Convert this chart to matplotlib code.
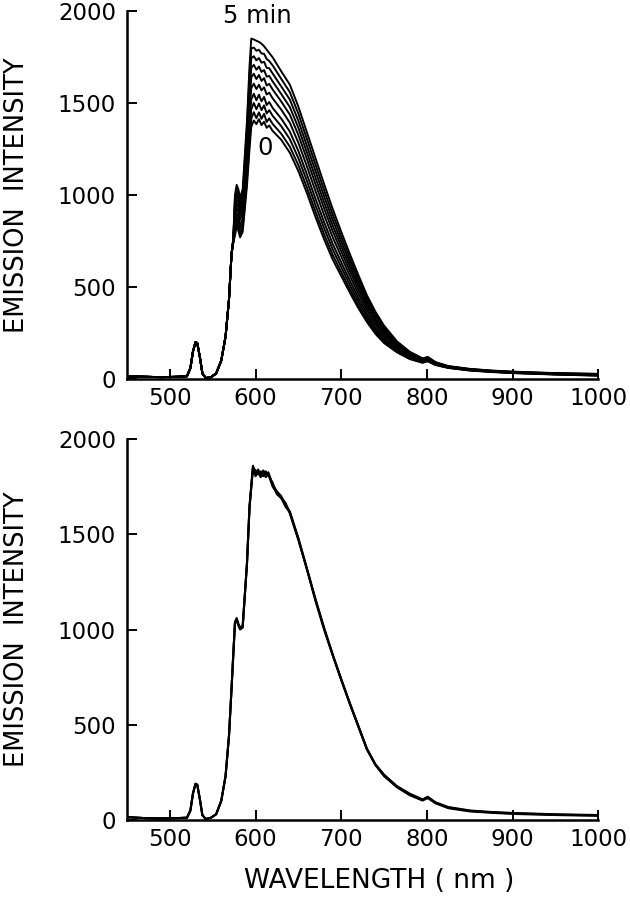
import matplotlib
matplotlib.use("Agg")
import matplotlib.pyplot as plt

plt.rcParams['font.family'] = ['DejaVu Sans']

# wavelength grid (nm) - onset part shared by every spectrum
wl_onset = [450, 470, 490, 510, 520, 524, 527, 530, 532, 535, 538, 542, 548, 554, 560, 565, 569, 572]

# upper panel: spectra recorded 0 ... 5 min
top_onset = [15, 12, 10, 12, 15, 60, 150, 200, 195, 120, 30, 5, 10, 30, 100, 230, 430, 680]
wl_top = [574, 576, 578, 580, 582, 585, 590, 593, 595, 598, 601, 604, 607, 610, 613, 616, 620,
          630, 640, 650, 660, 670, 680, 690, 700, 710, 720, 730, 740, 750, 765, 780, 795, 801,
          810, 825, 850, 875, 900, 950, 1000]

top_0 = [740, 780, 830, 805, 770, 800, 1050, 1250, 1370, 1405, 1385, 1412, 1380, 1398, 1365, 1378, 1348,
         1300, 1230, 1130, 1010, 880, 760, 650, 560, 470, 385, 310, 245, 195, 145, 108, 88, 96,
         76, 60, 46, 38, 32, 24, 18]
top_1 = [740, 800, 850, 825, 790, 820, 1080, 1290, 1415, 1450, 1417, 1449, 1414, 1441, 1397, 1416, 1386,
         1333, 1263, 1162, 1040, 909, 787, 675, 582, 489, 401, 323, 256, 204, 150, 112, 90, 98,
         77, 61, 47, 39, 33, 25, 19]
top_2 = [744, 824, 875, 850, 813, 846, 1120, 1340, 1466, 1500, 1466, 1497, 1461, 1487, 1443, 1461, 1430,
         1374, 1304, 1200, 1076, 944, 820, 705, 608, 512, 421, 339, 269, 214, 157, 116, 93, 101,
         79, 62, 48, 40, 34, 26, 20]
top_3 = [746, 848, 900, 875, 837, 871, 1159, 1390, 1519, 1550, 1515, 1545, 1509, 1533, 1489, 1505, 1473,
         1415, 1345, 1239, 1112, 979, 853, 735, 634, 535, 441, 355, 282, 224, 164, 120, 95, 103,
         81, 63, 49, 40, 34, 26, 21]
top_4 = [749, 877, 929, 904, 865, 901, 1204, 1448, 1581, 1605, 1576, 1599, 1568, 1585, 1546, 1556, 1525,
         1464, 1393, 1284, 1155, 1021, 892, 771, 666, 562, 464, 374, 298, 237, 171, 126, 99, 107,
         83, 64, 50, 42, 36, 28, 22]
top_5 = [751, 903, 956, 931, 890, 929, 1246, 1502, 1639, 1659, 1630, 1652, 1620, 1635, 1595, 1604, 1573,
         1508, 1437, 1326, 1195, 1059, 928, 804, 694, 588, 486, 391, 312, 248, 179, 130, 101, 109,
         85, 66, 51, 42, 36, 28, 24]
top_6 = [753, 927, 981, 956, 914, 954, 1285, 1552, 1692, 1707, 1681, 1698, 1669, 1679, 1643, 1647, 1617,
         1549, 1478, 1365, 1231, 1094, 961, 834, 721, 611, 506, 407, 325, 259, 185, 135, 104, 112,
         87, 67, 52, 43, 37, 29, 25]
top_7 = [756, 952, 1006, 981, 938, 979, 1323, 1601, 1744, 1754, 1732, 1744, 1719, 1724, 1691, 1689, 1660,
         1590, 1519, 1403, 1267, 1130, 994, 865, 747, 634, 525, 423, 339, 269, 192, 139, 107, 115,
         88, 68, 53, 44, 38, 30, 26]
top_8 = [758, 976, 1030, 1005, 961, 1005, 1362, 1651, 1797, 1801, 1784, 1789, 1769, 1767, 1739, 1728, 1704,
         1631, 1559, 1442, 1304, 1165, 1027, 895, 774, 657, 545, 439, 352, 280, 198, 144, 109, 117,
         90, 69, 54, 45, 39, 31, 27]
top_5min = [760, 1000, 1055, 1030, 985, 1030, 1400, 1700, 1850, 1845, 1838, 1832, 1822, 1808, 1790, 1772, 1748,
            1672, 1600, 1480, 1340, 1200, 1060, 925, 800, 680, 565, 455, 365, 290, 205, 148, 112, 120,
            92, 70, 55, 46, 40, 32, 28]
top_series = [top_0, top_1, top_2, top_3, top_4, top_5, top_6, top_7, top_8, top_5min]

# lower panel: nearly identical repeated spectra
bot_onset = [15, 10, 8, 10, 12, 50, 140, 190, 185, 110, 25, 5, 12, 30, 100, 230, 440, 690]
wl_bot = [574, 576, 578, 580, 582, 585, 590, 593, 597, 600, 603, 606, 609, 612, 615, 620, 625, 630,
          635, 640, 650, 660, 670, 680, 690, 700, 710, 720, 730, 740, 750, 765, 780, 795, 801, 810,
          825, 850, 875, 900, 950, 1000]
bot_a = [870, 1040, 1060, 1030, 1010, 1020, 1350, 1650, 1860, 1820, 1840, 1810, 1835, 1815, 1825, 1760, 1725, 1700,
         1655, 1620, 1480, 1320, 1160, 1010, 870, 740, 615, 495, 375, 290, 235, 175, 135, 105, 120, 90,
         65, 48, 40, 35, 28, 24]
bot_b = [860, 1030, 1055, 1025, 1005, 1015, 1340, 1640, 1850, 1835, 1815, 1830, 1805, 1830, 1810, 1770, 1710, 1690,
         1665, 1610, 1470, 1315, 1150, 1000, 865, 735, 610, 490, 370, 288, 230, 172, 130, 102, 115, 88,
         62, 45, 38, 32, 26, 22]
bot_c = [865, 1035, 1050, 1020, 1000, 1010, 1345, 1645, 1845, 1805, 1825, 1800, 1820, 1800, 1815, 1750, 1715, 1690,
         1645, 1615, 1475, 1318, 1155, 1005, 868, 738, 612, 492, 372, 292, 238, 178, 138, 108, 122, 93,
         68, 50, 42, 37, 30, 26]
bot_series = [bot_a, bot_b, bot_c]

fig = plt.figure(figsize=(6.3, 9), dpi=100)
ax1 = fig.add_axes([0.2016, 0.5789, 0.748, 0.4089])
ax2 = fig.add_axes([0.2016, 0.0889, 0.748, 0.4233])

for ys in top_series:
    ax1.plot(wl_onset + wl_top, top_onset + ys, color='black', lw=1.4)
for ys in bot_series:
    ax2.plot(wl_onset + wl_bot, bot_onset + ys, color='black', lw=1.5)

for ax in (ax1, ax2):
    ax.set_xlim(450, 1000)
    ax.set_ylim(0, 2000)
    ax.set_xticks([500, 600, 700, 800, 900, 1000])
    ax.set_yticks([0, 500, 1000, 1500, 2000])
    ax.spines['top'].set_visible(False)
    ax.spines['right'].set_visible(False)
    ax.spines['left'].set_linewidth(1.8)
    ax.spines['bottom'].set_linewidth(1.8)
    ax.tick_params(axis='both', direction='in', length=7, width=1.4, labelsize=16.5)
    ax.tick_params(axis='x', pad=6)
    ax.tick_params(axis='y', pad=8)
    ax.set_ylabel('EMISSION  INTENSITY', fontsize=18.5)
    ax.yaxis.set_label_coords(-0.205, 0.5)

ax1.text(602, 1975, '5 min', fontsize=17.5, ha='center', va='center')
ax1.text(611, 1255, '0', fontsize=17.5, ha='center', va='center')
ax2.set_xlabel('WAVELENGTH ( nm )', fontsize=19, labelpad=14)
ax2.xaxis.set_label_coords(0.535, -0.125)

fig.savefig('out.png', dpi=100)
